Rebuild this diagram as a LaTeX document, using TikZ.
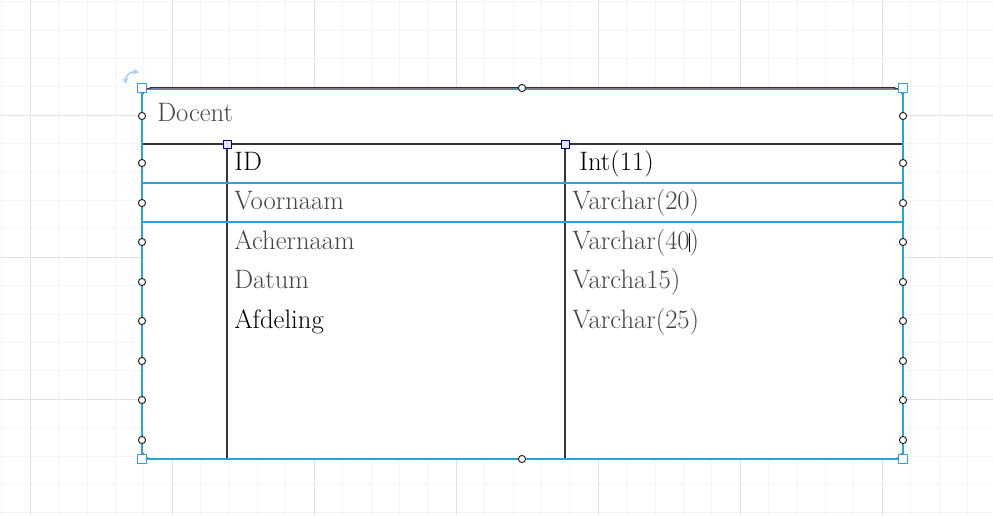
\documentclass[tikz,border=0pt]{standalone}
\definecolor{selblue}{HTML}{29A3E0}
\definecolor{gridminor}{HTML}{F4F4F4}
\definecolor{gridmajor}{HTML}{E2E2E2}
\definecolor{txtgray}{HTML}{444444}
\definecolor{linegray}{HTML}{333333}
\definecolor{rotblue}{HTML}{A9CFF2}
\definecolor{navyline}{HTML}{000080}
\definecolor{lavender}{HTML}{E4E4F8}
\begin{document}
\begin{tikzpicture}[x=0.75pt,y=-0.75pt, line join=round, line cap=round, >=stealth,
		every node/.style={font=\fontsize{20}{24}\selectfont, inner sep=0pt, anchor=base west},
		handle/.style={draw=black!85, fill=white, line width=0.75pt},
		cornerbox/.style={draw=selblue, fill=white, line width=0.9pt},
		colbox/.style={draw=navyline, fill=lavender, line width=0.75pt}]
			\def\xl{142}
			\def\xr{903}
			\def\yt{88}
			\def\yb{459}
			\def\yh{144}
			\def\xa{227}
			\def\xb{565}
			\useasboundingbox (0,0) rectangle (993,515);
			% grid
			\foreach \i [evaluate=\i as \gx using 1.6+28.4*\i] in {0,...,34} \draw[gridminor] (\gx,0)--(\gx,515);
			\foreach \i [evaluate=\i as \gy using 1.4+28.4*\i] in {0,...,18} \draw[gridminor] (0,\gy)--(993,\gy);
			\foreach \gx in {30,172,314,456,598,740,882} \draw[gridmajor] (\gx,0)--(\gx,515);
			\foreach \gy in {115,257,399} \draw[gridmajor] (0,\gy)--(993,\gy);
			% table
			\filldraw[fill=white, draw=linegray, line width=0.9pt, rounded corners=7pt] (\xl,\yt) rectangle (\xr,\yb);
			\draw[linegray, line width=0.8pt] (\xl,\yh)--(\xr,\yh) (\xa,\yh)--(\xa,\yb) (\xb,\yh)--(\xb,\yb);
			\draw[selblue, line width=1.5pt, line cap=butt] (\xl,\yt+1)--(\xl,\yb)--(\xr,\yb)--(\xr,\yt+1);
			\draw[selblue, line width=1pt] (\xl+6,\yt+1.3)--(\xr-6,\yt+1.3);
			\draw[linegray, line width=0.6pt] (\xl+8,\yt-0.3)--(\xr-8,\yt-0.3);
			\draw[selblue, line width=2.2pt, line cap=butt] (\xl,183) rectangle (\xr,222);
			% texts
			\node[text=txtgray] (docent) at (157,121) {Docent};
			\foreach \name/\txt/\col/\y in {id/ID/black/170,voornaam/Voornaam/txtgray/209.5,achernaam/Achernaam/txtgray/249,datum/Datum/txtgray/288.5,afdeling/Afdeling/black/328}
				\node[text=\col] (\name) at (234,\y) {\txt};
			\node (tid) at (579,170) {Int(11)};
			\node[text=txtgray] (tvoornaam) at (572,209.5) {Varchar(20)};
			\node[text=txtgray] (tachernaam) at (572,249) {Varchar(40\makebox[0pt]{\color{black}\rule[-2.5pt]{0.8pt}{14.5pt}})};
			\node[text=txtgray] (tdatum) at (572,288.5) {Varcha15)};
			\node[text=txtgray] (tafdeling) at (572,328) {Varchar(25)};
			% handles
			\foreach \y in {116,163,203,242,282,321,361,400,440} {
				\draw[handle] (\xl,\y) circle (3.6);
				\draw[handle] (\xr,\y) circle (3.6);
			}
			\draw[handle] (522,\yt) circle (3.6) (522,\yb) circle (3.6);
			\foreach \p in {(\xl,\yt),(\xr,\yt),(\xl,\yb),(\xr,\yb)}
				\draw[cornerbox, shift={\p}] (-4.5,-4.5) rectangle (4.5,4.5);
			\foreach \x in {\xa,\xb}
				\draw[colbox, shift={(\x,\yh)}] (-4,-4) rectangle (4,4);
			\draw[rotblue, line width=1.1pt, <->] (126,84) .. controls (125,76) and (131,71) .. (139,72.5);
		\end{tikzpicture}
\end{document}
